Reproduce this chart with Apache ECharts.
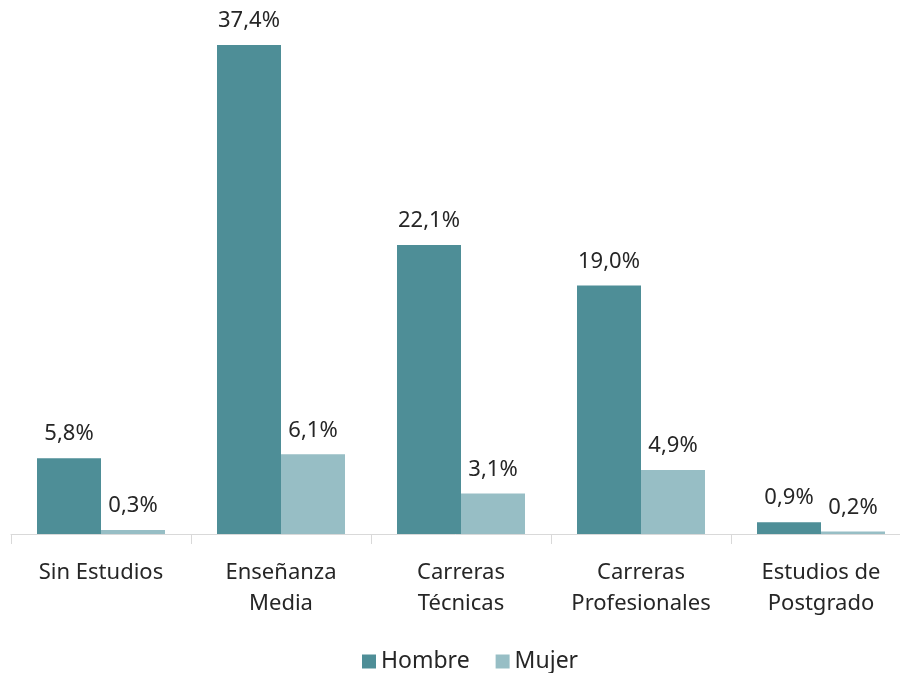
<!DOCTYPE html>
<html>
<head>
<meta charset="utf-8">
<script src="https://cdn.jsdelivr.net/npm/echarts@6/dist/echarts.min.js"></script>
<style>
  html, body { margin: 0; padding: 0; background: #fff; }
  #chart { width: 900px; height: 673px; }
</style>
</head>
<body>
<div id="chart"></div>
<script>
// categorias y valores (%)
const categorias = ['Sin Estudios', 'Enseñanza\nMedia', 'Carreras\nTécnicas', 'Carreras\nProfesionales', 'Estudios de\nPostgrado']
const hombre = [5.8, 37.4, 22.1, 19.0, 0.9]
const mujer = [0.3, 6.1, 3.1, 4.9, 0.2]

const fmt = p => p.value.toFixed(1).replace('.', ',') + '%'
const fontFam = '"Noto Sans", "Open Sans", sans-serif'

const chart = echarts.init(document.getElementById('chart'))
const option = {
  animation: false,
  textStyle: { fontFamily: fontFam },
  grid: { left: 11, right: -11, top: 11, bottom: 139, containLabel: false, outerBoundsMode: 'none' },
  legend: {
    top: 645,
    left: 357,
    itemWidth: 14,
    itemHeight: 14,
    itemGap: 26,
    icon: 'rect',
    textStyle: { fontSize: 23, color: '#262626', fontFamily: fontFam },
    data: ['Hombre', 'Mujer']
  },
  xAxis: {
    type: 'category',
    data: categorias,
    axisLine: { lineStyle: { color: '#d9d9d9', width: 1 } },
    axisTick: { show: true, length: 10, lineStyle: { color: '#d9d9d9' } },
    axisLabel: {
      color: '#262626',
      fontSize: 22,
      lineHeight: 31,
      margin: 23,
      interval: 0,
      fontFamily: fontFam
    }
  },
  yAxis: {
    type: 'value',
    min: 0,
    max: 40,
    show: false,
    splitLine: { show: false }
  },
  series: [
    {
      name: 'Hombre',
      type: 'bar',
      data: hombre,
      barWidth: 64,
      barGap: '0%',
      itemStyle: { color: '#4e8e97' },
      label: { show: true, position: 'top', distance: 13, formatter: fmt, fontSize: 22, color: '#262626', fontFamily: fontFam }
    },
    {
      name: 'Mujer',
      type: 'bar',
      data: mujer,
      barWidth: 64,
      itemStyle: { color: '#97bec5' },
      label: { show: true, position: 'top', distance: 13, formatter: fmt, fontSize: 22, color: '#262626', fontFamily: fontFam }
    }
  ]
}
chart.setOption(option)
</script>
</body>
</html>
